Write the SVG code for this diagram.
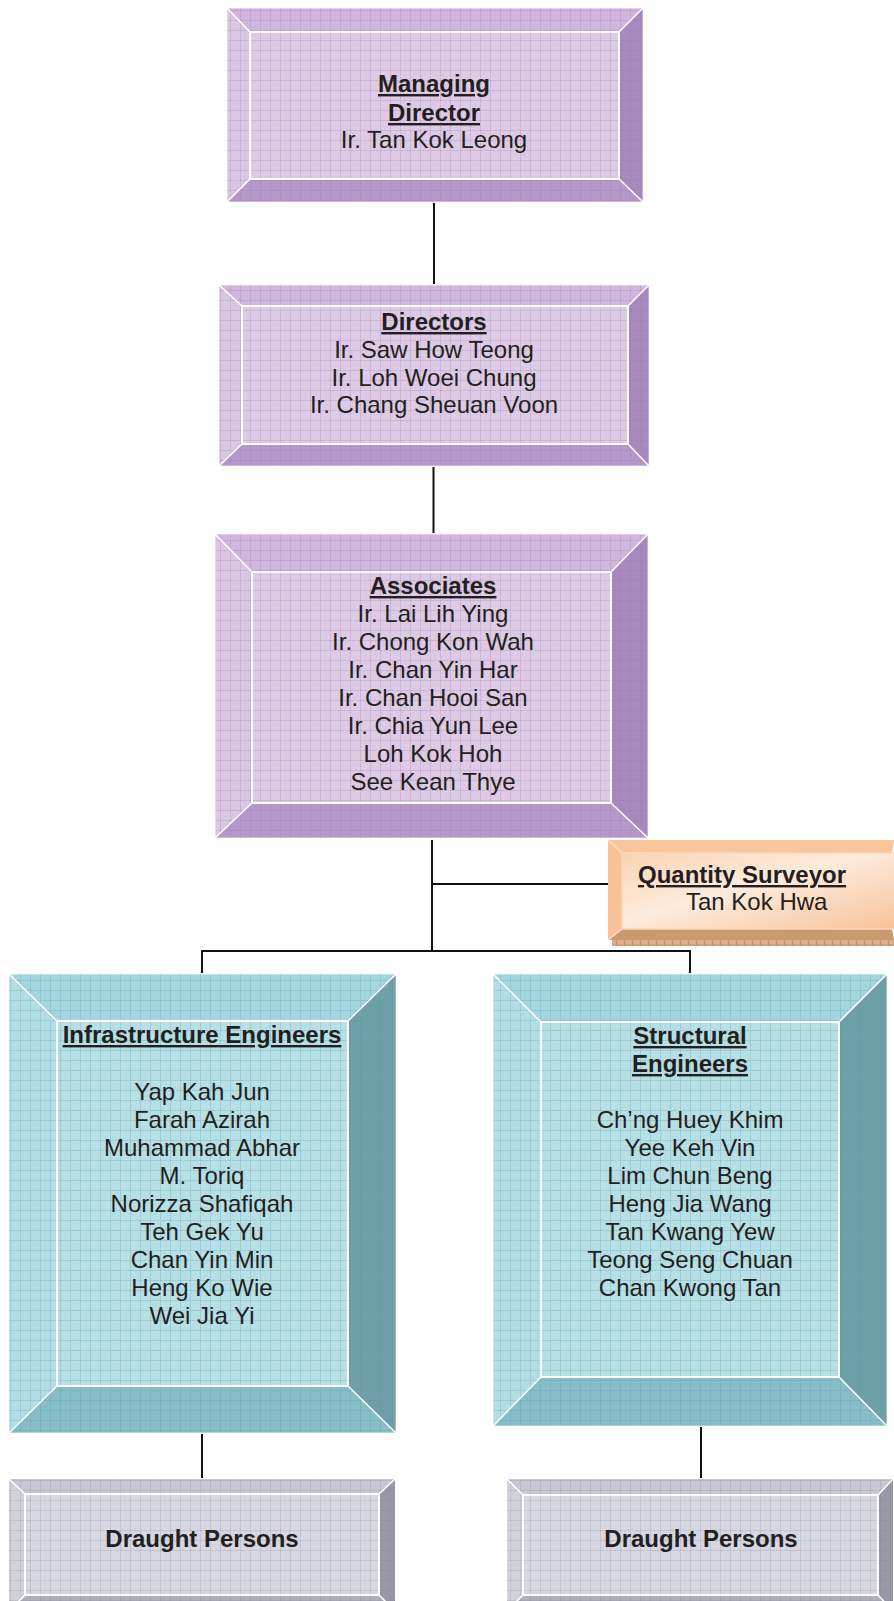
<svg xmlns="http://www.w3.org/2000/svg" width="894" height="1601" viewBox="0 0 894 1601">
<defs>
<pattern id="gP" width="10" height="10" patternUnits="userSpaceOnUse"><path d="M0 0.5H10M0.5 0V10" stroke="#9a74b4" stroke-opacity="0.25" stroke-width="1" fill="none"/></pattern>
<pattern id="gT" width="10" height="10" patternUnits="userSpaceOnUse"><path d="M0 0.5H10M0.5 0V10" stroke="#4f9aa8" stroke-opacity="0.25" stroke-width="1" fill="none"/></pattern>
<pattern id="gG" width="10" height="10" patternUnits="userSpaceOnUse"><path d="M0 0.5H10M0.5 0V10" stroke="#7d7d95" stroke-opacity="0.22" stroke-width="1" fill="none"/></pattern>
<pattern id="gO" width="8" height="6" patternUnits="userSpaceOnUse"><rect width="8" height="6" fill="#dcae8c"/><path d="M0.5 0V6M0 3H8" stroke="#b9795a" stroke-opacity="0.6" stroke-width="1"/></pattern>
<linearGradient id="qsFace" x1="0" y1="0" x2="1" y2="1">
<stop offset="0" stop-color="#fbd3b2"/><stop offset="0.45" stop-color="#fdebdd"/><stop offset="1" stop-color="#f7c39a"/>
</linearGradient>
</defs>
<style>
.t{font-family:"Liberation Sans",Arial,sans-serif;font-size:24px;fill:#231f20;text-anchor:middle}
.b{font-weight:bold;text-decoration:underline}
.bb{font-weight:bold}
.hl{stroke:#ffffff;stroke-width:2;fill:none}
.dg{stroke:#ffffff;stroke-width:1.5}
.ol{stroke:#ffffff;stroke-width:1;fill:none;stroke-opacity:0.7}
.pT{fill:#d0b6dc}.pL{fill:#d9c6e2}.pR{fill:#a789bd}.pB{fill:#b697ca}.pF{fill:#ddcbe5}
.tT{fill:#a4d4de}.tL{fill:#b3dde4}.tR{fill:#6f9fa8}.tB{fill:#88bdc7}.tF{fill:#b7dfe6}
.gT{fill:#c7c7d4}.gL{fill:#d2d2dc}.gR{fill:#9898a8}.gB{fill:#afafbd}.gF{fill:#d7d7e1}
.conn{stroke:#111;stroke-width:2;fill:none}
</style>

<g id="connectors">
<line class="conn" x1="434" y1="203" x2="434" y2="284"/>
<line class="conn" x1="433.5" y1="467" x2="433.5" y2="533"/>
<line class="conn" x1="432" y1="840" x2="432" y2="951"/>
<line class="conn" x1="432" y1="884" x2="608" y2="884"/>
<line class="conn" x1="201" y1="951" x2="691" y2="951"/>
<line class="conn" x1="202" y1="950" x2="202" y2="973"/>
<line class="conn" x1="690" y1="950" x2="690" y2="973"/>
<line class="conn" x1="202" y1="1434" x2="202" y2="1478"/>
<line class="conn" x1="701" y1="1427" x2="701" y2="1478"/>
</g>

<g id="managing-director">
<polygon class="pT" points="227,8 643,8 619,32 250,32"/>
<polygon class="pL" points="227,8 250,32 250,179 227,202"/>
<polygon class="pR" points="643,8 643,202 619,179 619,32"/>
<polygon class="pB" points="227,202 250,179 619,179 643,202"/>
<rect class="pF" x="250" y="32" width="369" height="147"/>
<rect x="227" y="8" width="416" height="194" fill="url(#gP)"/>
<rect class="hl" x="250" y="32" width="369" height="147"/>
<line class="dg" x1="227" y1="8" x2="250" y2="32"/><line class="dg" x1="643" y1="8" x2="619" y2="32"/>
<line class="dg" x1="227" y1="202" x2="250" y2="179"/><line class="dg" x1="643" y1="202" x2="619" y2="179"/>
<rect class="ol" x="227" y="8" width="416" height="194"/>
<text class="t b" x="434" y="92">Managing</text>
<text class="t b" x="434" y="121">Director</text>
<text class="t" x="434" y="148">Ir. Tan Kok Leong</text>
</g>

<g id="directors">
<polygon class="pT" points="219,285 649,285 628,306 242,306"/>
<polygon class="pL" points="219,285 242,306 242,444 219,466"/>
<polygon class="pR" points="649,285 649,466 628,444 628,306"/>
<polygon class="pB" points="219,466 242,444 628,444 649,466"/>
<rect class="pF" x="242" y="306" width="386" height="138"/>
<rect x="219" y="285" width="430" height="181" fill="url(#gP)"/>
<rect class="hl" x="242" y="306" width="386" height="138"/>
<line class="dg" x1="219" y1="285" x2="242" y2="306"/><line class="dg" x1="649" y1="285" x2="628" y2="306"/>
<line class="dg" x1="219" y1="466" x2="242" y2="444"/><line class="dg" x1="649" y1="466" x2="628" y2="444"/>
<rect class="ol" x="219" y="285" width="430" height="181"/>
<text class="t b" x="434" y="330">Directors</text>
<text class="t" x="434" y="358">Ir. Saw How Teong</text>
<text class="t" x="434" y="386">Ir. Loh Woei Chung</text>
<text class="t" x="434" y="413">Ir. Chang Sheuan Voon</text>
</g>

<g id="associates">
<polygon class="pT" points="215,534 648,534 611,572 252,572"/>
<polygon class="pL" points="215,534 252,572 252,803 215,838"/>
<polygon class="pR" points="648,534 648,838 611,803 611,572"/>
<polygon class="pB" points="215,838 252,803 611,803 648,838"/>
<rect class="pF" x="252" y="572" width="359" height="231"/>
<rect x="215" y="534" width="433" height="304" fill="url(#gP)"/>
<rect class="hl" x="252" y="572" width="359" height="231"/>
<line class="dg" x1="215" y1="534" x2="252" y2="572"/><line class="dg" x1="648" y1="534" x2="611" y2="572"/>
<line class="dg" x1="215" y1="838" x2="252" y2="803"/><line class="dg" x1="648" y1="838" x2="611" y2="803"/>
<rect class="ol" x="215" y="534" width="433" height="304"/>
<text class="t b" x="433" y="594">Associates</text>
<text class="t" x="433" y="622">Ir. Lai Lih Ying</text>
<text class="t" x="433" y="650">Ir. Chong Kon Wah</text>
<text class="t" x="433" y="678">Ir. Chan Yin Har</text>
<text class="t" x="433" y="706">Ir. Chan Hooi San</text>
<text class="t" x="433" y="734">Ir. Chia Yun Lee</text>
<text class="t" x="433" y="762">Loh Kok Hoh</text>
<text class="t" x="433" y="790">See Kean Thye</text>
</g>

<g id="quantity-surveyor">
<rect x="612" y="939" width="282" height="7" fill="url(#gO)"/>
<polygon points="608,840 894,840 892,853 622,853" fill="#f9c69b"/>
<polygon points="608,840 622,853 622,929 608,940" fill="#f8c196"/>
<polygon points="608,940 622,929 892,929 894,940" fill="#c99a70"/>
<rect x="622" y="853" width="272" height="76" fill="url(#qsFace)"/>
<line x1="608" y1="840" x2="622" y2="853" stroke="#fde3cf" stroke-width="1.2"/>
<line x1="608" y1="940" x2="622" y2="929" stroke="#fde3cf" stroke-width="1.2"/>
<path d="M894 853H622V929H894" fill="none" stroke="#fbd8bd" stroke-width="1.5"/>
<text class="t b" style="text-anchor:start" x="638" y="883">Quantity Surveyor</text>
<text class="t" style="text-anchor:start" x="686" y="910">Tan Kok Hwa</text>
</g>

<g id="infrastructure-engineers">
<polygon class="tT" points="9,974 396,974 348,1021 57,1021"/>
<polygon class="tL" points="9,974 57,1021 57,1386 9,1433"/>
<polygon class="tR" points="396,974 396,1433 348,1386 348,1021"/>
<polygon class="tB" points="9,1433 57,1386 348,1386 396,1433"/>
<rect class="tF" x="57" y="1021" width="291" height="365"/>
<rect x="9" y="974" width="387" height="459" fill="url(#gT)"/>
<rect class="hl" x="57" y="1021" width="291" height="365"/>
<line class="dg" x1="9" y1="974" x2="57" y2="1021"/><line class="dg" x1="396" y1="974" x2="348" y2="1021"/>
<line class="dg" x1="9" y1="1433" x2="57" y2="1386"/><line class="dg" x1="396" y1="1433" x2="348" y2="1386"/>
<rect class="ol" x="9" y="974" width="387" height="459"/>
<text class="t b" x="202" y="1043">Infrastructure Engineers</text>
<text class="t" x="202" y="1100">Yap Kah Jun</text>
<text class="t" x="202" y="1128">Farah Azirah</text>
<text class="t" x="202" y="1156">Muhammad Abhar</text>
<text class="t" x="202" y="1184">M. Toriq</text>
<text class="t" x="202" y="1212">Norizza Shafiqah</text>
<text class="t" x="202" y="1240">Teh Gek Yu</text>
<text class="t" x="202" y="1268">Chan Yin Min</text>
<text class="t" x="202" y="1296">Heng Ko Wie</text>
<text class="t" x="202" y="1324">Wei Jia Yi</text>
</g>

<g id="structural-engineers">
<polygon class="tT" points="493,974 887,974 839,1022 541,1022"/>
<polygon class="tL" points="493,974 541,1022 541,1377 493,1426"/>
<polygon class="tR" points="887,974 887,1426 839,1377 839,1022"/>
<polygon class="tB" points="493,1426 541,1377 839,1377 887,1426"/>
<rect class="tF" x="541" y="1022" width="298" height="355"/>
<rect x="493" y="974" width="394" height="452" fill="url(#gT)"/>
<rect class="hl" x="541" y="1022" width="298" height="355"/>
<line class="dg" x1="493" y1="974" x2="541" y2="1022"/><line class="dg" x1="887" y1="974" x2="839" y2="1022"/>
<line class="dg" x1="493" y1="1426" x2="541" y2="1377"/><line class="dg" x1="887" y1="1426" x2="839" y2="1377"/>
<rect class="ol" x="493" y="974" width="394" height="452"/>
<text class="t b" x="690" y="1044">Structural</text>
<text class="t b" x="690" y="1072">Engineers</text>
<text class="t" x="690" y="1128">Ch’ng Huey Khim</text>
<text class="t" x="690" y="1156">Yee Keh Vin</text>
<text class="t" x="690" y="1184">Lim Chun Beng</text>
<text class="t" x="690" y="1212">Heng Jia Wang</text>
<text class="t" x="690" y="1240">Tan Kwang Yew</text>
<text class="t" x="690" y="1268">Teong Seng Chuan</text>
<text class="t" x="690" y="1296">Chan Kwong Tan</text>
</g>

<g id="draught-persons-left">
<polygon class="gT" points="9,1479 395,1479 379,1494 25,1494"/>
<polygon class="gL" points="9,1479 25,1494 25,1595 9,1611"/>
<polygon class="gR" points="395,1479 395,1611 379,1595 379,1494"/>
<polygon class="gB" points="9,1611 25,1595 379,1595 395,1611"/>
<rect class="gF" x="25" y="1494" width="354" height="101"/>
<rect x="9" y="1479" width="386" height="132" fill="url(#gG)"/>
<rect class="hl" x="25" y="1494" width="354" height="101"/>
<line class="dg" x1="9" y1="1479" x2="25" y2="1494"/><line class="dg" x1="395" y1="1479" x2="379" y2="1494"/>
<line class="dg" x1="9" y1="1611" x2="25" y2="1595"/><line class="dg" x1="395" y1="1611" x2="379" y2="1595"/>
<text class="t bb" x="202" y="1547">Draught Persons</text>
</g>

<g id="draught-persons-right">
<polygon class="gT" points="507,1479 893,1479 878,1495 523,1495"/>
<polygon class="gL" points="507,1479 523,1495 523,1595 507,1611"/>
<polygon class="gR" points="893,1479 893,1611 878,1595 878,1495"/>
<polygon class="gB" points="507,1611 523,1595 878,1595 893,1611"/>
<rect class="gF" x="523" y="1495" width="355" height="100"/>
<rect x="507" y="1479" width="386" height="132" fill="url(#gG)"/>
<rect class="hl" x="523" y="1495" width="355" height="100"/>
<line class="dg" x1="507" y1="1479" x2="523" y2="1495"/><line class="dg" x1="893" y1="1479" x2="878" y2="1495"/>
<line class="dg" x1="507" y1="1611" x2="523" y2="1595"/><line class="dg" x1="893" y1="1611" x2="878" y2="1595"/>
<text class="t bb" x="701" y="1547">Draught Persons</text>
</g>
</svg>
